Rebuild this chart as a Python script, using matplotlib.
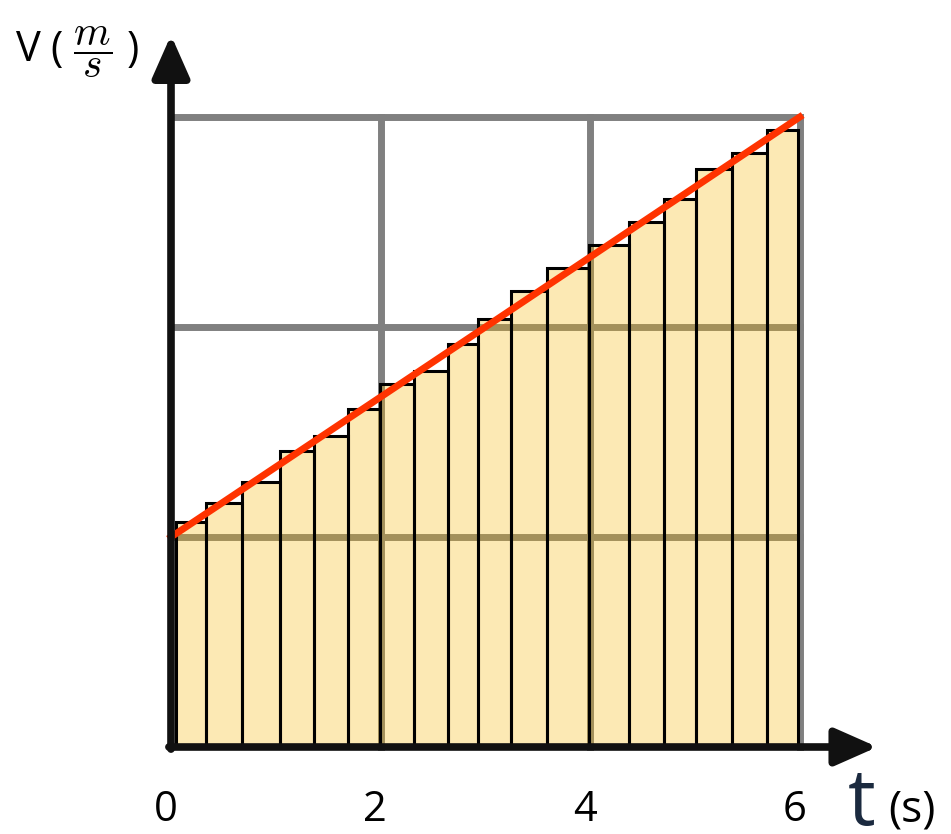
import numpy as np
import matplotlib
matplotlib.use('Agg')
import matplotlib.pyplot as plt

plt.rcParams['mathtext.fontset'] = 'cm'

# bar edges (t in s) and bar heights
t_edges = [0.05, 0.33, 0.68, 1.04, 1.36, 1.69, 1.99, 2.32, 2.64, 2.93,
           3.24, 3.59, 3.99, 4.37, 4.70, 5.01, 5.35, 5.69, 5.98]
v_bars = [1.07, 1.16, 1.26, 1.41, 1.48, 1.61, 1.73, 1.79, 1.92,
          2.04, 2.17, 2.28, 2.39, 2.50, 2.61, 2.75, 2.83, 2.94]

# red line v(t)
t_line = [0.0, 6.0]
v_line = [1.0, 3.0]

tick_vals = [0, 2, 4, 6]
tick_labels = ['0', '2', '4', '6']
grid_t = [2, 4, 6]
grid_v = [1, 2, 3]

fnt = ['Open Sans', 'DejaVu Sans']

fig = plt.figure(figsize=(9.51, 8.34), dpi=100)
ax = fig.add_axes([0, 0, 1, 1])
# pixel mapping: x = 171 + 104.8 t, y = 747 - 210 v
ax.set_xlim(-171/104.8, (951-171)/104.8)
ax.set_ylim((747-834)/210, 747/210)
ax.axis('off')

# grid (under translucent bars)
for g in grid_t:
    ax.plot([g, g], [0, 3], color='#808080', lw=5, zorder=1, solid_capstyle='projecting')
for g in grid_v:
    ax.plot([0, 6], [g, g], color='#808080', lw=5, zorder=1, solid_capstyle='projecting')

left = np.array(t_edges[:-1])
width = np.diff(t_edges)
ax.bar(left, v_bars, width=width, align='edge',
       facecolor=(0.97, 0.72, 0.03, 0.30), edgecolor='black', linewidth=2.2, zorder=2)

ax.plot(t_line, v_line, color='#ff3300', lw=5, zorder=3)

# axes arrows
arr = dict(arrowstyle='-|>,head_length=0.95,head_width=0.42', lw=5.5,
           color='#111111', shrinkA=0, shrinkB=0, mutation_scale=27)
ax.annotate('', xy=(0, 3.39), xytext=(0, -0.01), arrowprops=arr, zorder=4)
ax.annotate('', xy=(6.74, 0), xytext=(-0.02, 0), arrowprops=arr, zorder=4)

for tv, tl in zip(tick_vals, tick_labels):
    ax.text(tv - 0.05, -0.30, tl, ha='center', va='center', fontsize=30, family=fnt)

ax.text(6.59, -0.371, 't', ha='center', va='baseline', fontsize=56, color='#1b2a3f', family=fnt)
ax.text(7.07, -0.30, '(s)', ha='center', va='center', fontsize=32, family=fnt)

fig.text(15/951, 1 - 52/834, r'V ( $\dfrac{m}{s}$ )', ha='left', va='center',
         fontsize=30, family=fnt)

fig.savefig('out.png', dpi=100)
